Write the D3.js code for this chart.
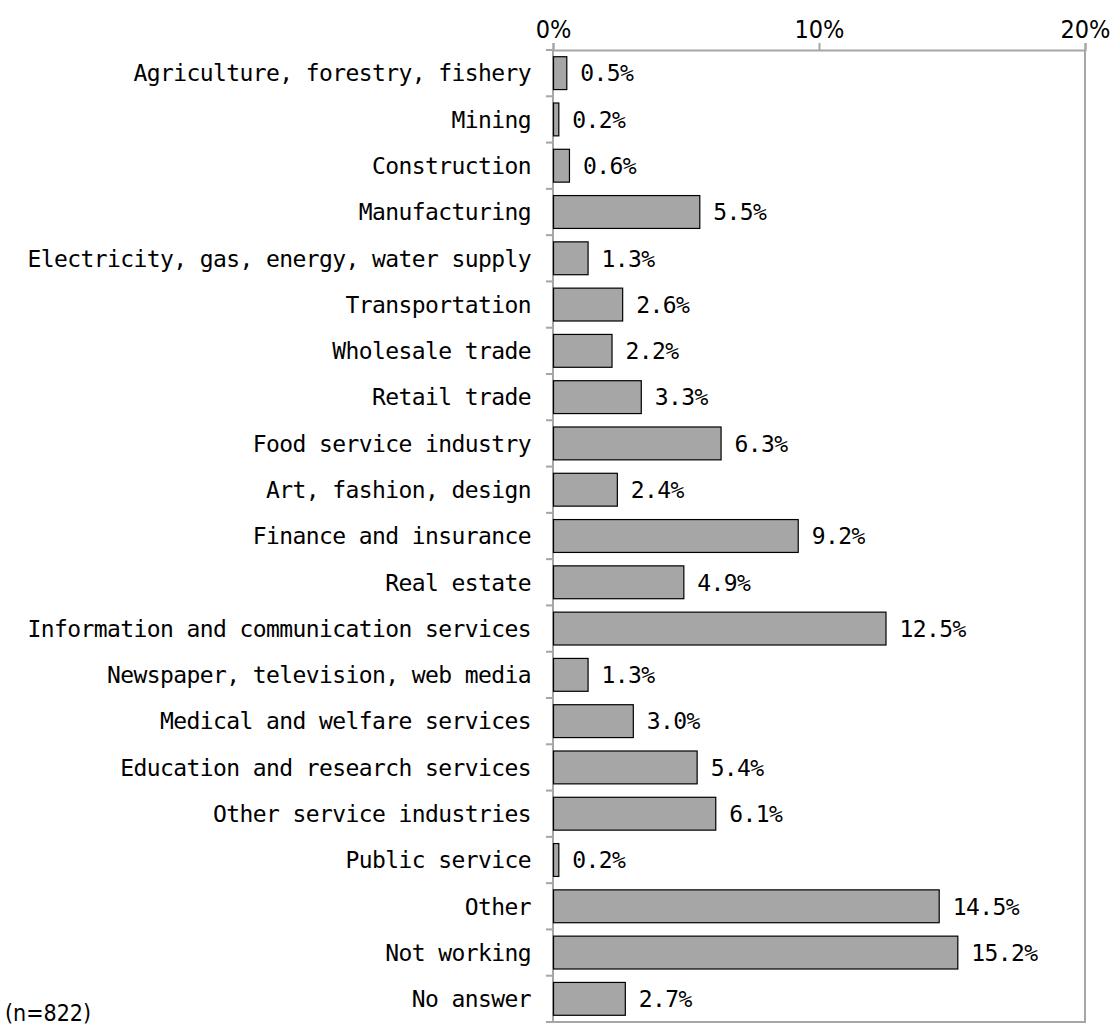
<!DOCTYPE html>
<html>
<head>
<meta charset="utf-8">
<script src="https://cdn.jsdelivr.net/npm/d3@7"></script>
<style>
  body { margin: 0; background: #fff; }
  text { font-family: "DejaVu Sans Mono", "Liberation Mono", monospace; fill: #000; }
</style>
</head>
<body>
<div id="chart"></div>
<script>
const categories = [
    "Agriculture, forestry, fishery",
    "Mining",
    "Construction",
    "Manufacturing",
    "Electricity, gas, energy, water supply",
    "Transportation",
    "Wholesale trade",
    "Retail trade",
    "Food service industry",
    "Art, fashion, design",
    "Finance and insurance",
    "Real estate",
    "Information and communication services",
    "Newspaper, television, web media",
    "Medical and welfare services",
    "Education and research services",
    "Other service industries",
    "Public service",
    "Other",
    "Not working",
    "No answer"
];
const values = [0.5, 0.2, 0.6, 5.5, 1.3, 2.6, 2.2, 3.3, 6.3, 2.4, 9.2, 4.9, 12.5, 1.3, 3.0, 5.4, 6.1, 0.2, 14.5, 15.2, 2.7];
const xTicks = [0, 10, 20];
const sampleNote = "(n=822)";

const width = 1110, height = 1028;
const margin = { top: 50, right: 25, bottom: 6, left: 553 };
const axisColor = "#a6a6a6";

const svg = d3.select("#chart").append("svg")
    .attr("width", width)
    .attr("height", height);

const x = d3.scaleLinear()
    .domain([0, 20])
    .range([margin.left, width - margin.right]);

const y = d3.scaleBand()
    .domain(categories)
    .range([margin.top, height - margin.bottom])
    .paddingInner(0.29)
    .paddingOuter(0.145);

const data = categories.map((c, i) => ({ name: c, value: values[i] }));

// plot area frame (right + bottom)
svg.append("path")
    .attr("d", `M${x(20)},${margin.top}V${height - margin.bottom}H${margin.left}`)
    .attr("fill", "none")
    .attr("stroke", axisColor)
    .attr("stroke-width", 2);

// top axis
const xAxis = svg.append("g")
    .attr("transform", `translate(0,${margin.top})`)
    .call(d3.axisTop(x).tickValues(xTicks).tickFormat(d => d + "%").tickSize(7).tickPadding(5));
xAxis.select(".domain").attr("stroke", axisColor).attr("stroke-width", 2);
xAxis.selectAll(".tick line").attr("stroke", axisColor).attr("stroke-width", 2);
xAxis.selectAll(".tick text")
    .style("font-size", "25px")
    .style("font-family", "'DejaVu Sans Condensed', sans-serif")
    .attr("fill", "#000");

// left axis with ticks at category boundaries
const step = y.step();
const boundaries = d3.range(categories.length + 1).map(i => margin.top + i * step);
svg.append("line")
    .attr("x1", margin.left).attr("x2", margin.left)
    .attr("y1", margin.top).attr("y2", height - margin.bottom)
    .attr("stroke", axisColor).attr("stroke-width", 2);
svg.selectAll(".ytick")
    .data(boundaries)
    .enter()
    .append("line")
    .attr("class", "ytick")
    .attr("x1", margin.left - 7).attr("x2", margin.left)
    .attr("y1", d => d).attr("y2", d => d)
    .attr("stroke", axisColor).attr("stroke-width", 2);

// category labels
svg.selectAll(".cat")
    .data(data)
    .enter()
    .append("text")
    .attr("class", "cat")
    .attr("x", margin.left - 22)
    .attr("y", d => y(d.name) + y.bandwidth() / 2)
    .attr("dy", "0.36em")
    .attr("text-anchor", "end")
    .attr("font-size", 23)
    .attr("letter-spacing", -0.6)
    .text(d => d.name);

// bars
svg.selectAll(".bar")
    .data(data)
    .enter()
    .append("rect")
    .attr("class", "bar")
    .attr("x", x(0) + 0.5)
    .attr("y", d => y(d.name))
    .attr("width", d => x(d.value) - x(0))
    .attr("height", y.bandwidth())
    .attr("fill", "#a6a6a6")
    .attr("stroke", "#000")
    .attr("stroke-width", 1.2);

// value labels
svg.selectAll(".val")
    .data(data)
    .enter()
    .append("text")
    .attr("class", "val")
    .attr("x", d => x(d.value) + 14)
    .attr("y", d => y(d.name) + y.bandwidth() / 2)
    .attr("dy", "0.36em")
    .attr("font-size", 23)
    .attr("letter-spacing", -0.6)
    .text(d => d.value.toFixed(1) + "%");

svg.append("text")
    .attr("x", 5)
    .attr("y", 1021)
    .attr("font-size", 23)
    .style("font-family", "'DejaVu Sans Condensed', sans-serif")
    .text(sampleNote);
</script>
</body>
</html>
